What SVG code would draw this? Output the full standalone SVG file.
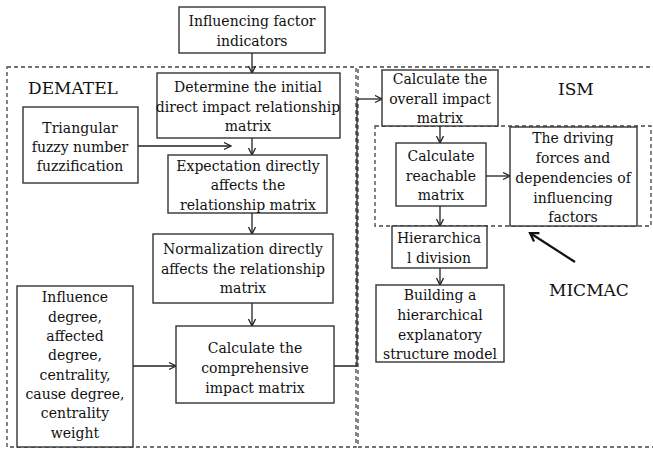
<svg xmlns="http://www.w3.org/2000/svg" width="653" height="450" viewBox="0 0 653 450">
<defs>
<marker id="ah" markerWidth="10" markerHeight="10" refX="8" refY="4" orient="auto" markerUnits="userSpaceOnUse">
<path d="M1,0.5 L8,4 L1,7.5" fill="none" stroke="#222" stroke-width="1.3"/>
</marker>
<marker id="ahb" markerWidth="14" markerHeight="14" refX="9" refY="6" orient="auto" markerUnits="userSpaceOnUse">
<path d="M1,1 L9,6 L1,11" fill="none" stroke="#111" stroke-width="2.2"/>
</marker>
<style>
.box{fill:#fff;stroke:#333;stroke-width:1.4}
.dash{fill:none;stroke:#444;stroke-width:1.3;stroke-dasharray:4 3}
.t{font-family:"DejaVu Serif","Liberation Serif",serif;font-size:14px;fill:#111;text-anchor:middle}
.lbl{font-family:"DejaVu Serif","Liberation Serif",serif;font-size:17px;fill:#111}
.c{fill:none;stroke:#222;stroke-width:1.3}
</style>
</defs>
<rect width="653" height="450" fill="#fff"/>
<g id="regions">
<rect class="dash" x="7" y="67" width="349" height="380"/>
<path class="dash" d="M657,67 H358 V447 H657"/>
<rect class="dash" x="375" y="126" width="276" height="100"/>
<text class="lbl" x="28" y="94">DEMATEL</text>
<text class="lbl" x="558" y="95">ISM</text>
<text class="lbl" x="549" y="296">MICMAC</text>
</g>
<g id="connectors">
<line class="c" x1="252" y1="53" x2="252" y2="73" marker-end="url(#ah)"/>
<line class="c" x1="138" y1="146" x2="231" y2="146" marker-end="url(#ah)"/>
<line class="c" x1="252" y1="138" x2="252" y2="155" marker-end="url(#ah)"/>
<line class="c" x1="252" y1="213" x2="252" y2="234" marker-end="url(#ah)"/>
<line class="c" x1="252" y1="303" x2="252" y2="326" marker-end="url(#ah)"/>
<line class="c" x1="133" y1="366" x2="176" y2="366" marker-end="url(#ah)"/>
<path class="c" d="M334,366 H357 V99"/>
<line class="c" x1="357" y1="99" x2="382" y2="99" marker-end="url(#ah)"/>
<line class="c" x1="440" y1="126" x2="440" y2="143" marker-end="url(#ah)"/>
<line class="c" x1="486" y1="176" x2="510" y2="176" marker-end="url(#ah)"/>
<line class="c" x1="440" y1="206" x2="440" y2="226" marker-end="url(#ah)"/>
<line class="c" x1="440" y1="268" x2="440" y2="285" marker-end="url(#ah)"/>
<line x1="575" y1="262" x2="530" y2="233" stroke="#111" stroke-width="2.2" marker-end="url(#ahb)"/>
</g>
<g id="n-indicators">
<rect class="box" x="179" y="7" width="146" height="46"/>
<text class="t" x="252" y="26">Influencing factor</text>
<text class="t" x="252" y="46">indicators</text>
</g>
<g id="n-initial">
<rect class="box" x="157" y="73" width="183" height="65"/>
<text class="t" x="248" y="92">Determine the initial</text>
<text class="t" x="248" y="112">direct impact relationship</text>
<text class="t" x="248" y="131">matrix</text>
</g>
<g id="n-triangular">
<rect class="box" x="23" y="107" width="115" height="76"/>
<text class="t" x="80" y="133">Triangular</text>
<text class="t" x="80" y="152">fuzzy number</text>
<text class="t" x="80" y="171">fuzzification</text>
</g>
<g id="n-expectation">
<rect class="box" x="168" y="155" width="159" height="58"/>
<text class="t" x="248" y="171">Expectation directly</text>
<text class="t" x="248" y="190">affects the</text>
<text class="t" x="248" y="210">relationship matrix</text>
</g>
<g id="n-normalization">
<rect class="box" x="153" y="234" width="180" height="69"/>
<text class="t" x="243" y="254">Normalization directly</text>
<text class="t" x="243" y="274">affects the relationship</text>
<text class="t" x="243" y="293">matrix</text>
</g>
<g id="n-comprehensive">
<rect class="box" x="176" y="326" width="158" height="77"/>
<text class="t" x="255" y="353">Calculate the</text>
<text class="t" x="255" y="373">comprehensive</text>
<text class="t" x="255" y="393">impact matrix</text>
</g>
<g id="n-influence">
<rect class="box" x="17" y="286" width="116" height="161"/>
<text class="t" x="75" y="302">Influence</text>
<text class="t" x="75" y="322">degree,</text>
<text class="t" x="75" y="341">affected</text>
<text class="t" x="75" y="360">degree,</text>
<text class="t" x="75" y="380">centrality,</text>
<text class="t" x="75" y="399">cause degree,</text>
<text class="t" x="75" y="418">centrality</text>
<text class="t" x="75" y="438">weight</text>
</g>
<g id="n-overall">
<rect class="box" x="382" y="70" width="116" height="56"/>
<text class="t" x="440" y="84">Calculate the</text>
<text class="t" x="440" y="104">overall impact</text>
<text class="t" x="440" y="123">matrix</text>
</g>
<g id="n-reachable">
<rect class="box" x="396" y="143" width="90" height="63"/>
<text class="t" x="441" y="161">Calculate</text>
<text class="t" x="441" y="181">reachable</text>
<text class="t" x="441" y="200">matrix</text>
</g>
<g id="n-driving">
<rect class="box" x="510" y="127" width="127" height="99"/>
<text class="t" x="573" y="143">The driving</text>
<text class="t" x="573" y="163">forces and</text>
<text class="t" x="573" y="183">dependencies of</text>
<text class="t" x="573" y="203">influencing</text>
<text class="t" x="573" y="222">factors</text>
</g>
<g id="n-hierarchical">
<rect class="box" x="392" y="226" width="95" height="42"/>
<text class="t" x="439" y="243">Hierarchica</text>
<text class="t" x="439" y="263">l division</text>
</g>
<g id="n-building">
<rect class="box" x="376" y="285" width="128" height="77"/>
<text class="t" x="440" y="300">Building a</text>
<text class="t" x="440" y="320">hierarchical</text>
<text class="t" x="440" y="340">explanatory</text>
<text class="t" x="440" y="359">structure model</text>
</g>
</svg>
